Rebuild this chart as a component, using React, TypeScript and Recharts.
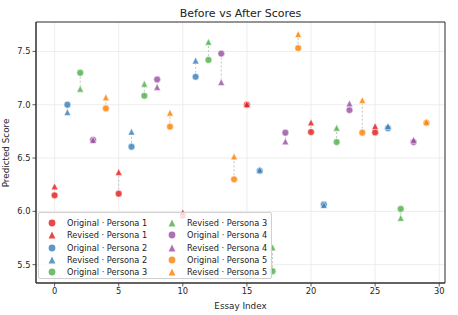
import React from 'react';
import {
  ScatterChart, Scatter, XAxis, YAxis, CartesianGrid, ReferenceArea,
} from 'recharts';

const essayIdx = [0, 1, 2, 3, 4, 5, 6, 7, 8, 9, 10, 11, 12, 13, 14, 15, 16, 17, 18, 19, 20, 21, 22, 23, 24, 25, 26, 27, 28, 29];
const personaIds = [1, 2, 3, 4, 5, 1, 2, 3, 4, 5, 1, 2, 3, 4, 5, 1, 2, 3, 4, 5, 1, 2, 3, 4, 5, 1, 2, 3, 4, 5];
const originalScores = [6.15, 7.0, 7.3, 6.67, 6.965, 6.166, 6.606, 7.084, 7.237, 6.794, 5.96, 7.262, 7.42, 7.48, 6.3, 7.0, 6.38, 5.438, 6.738, 7.531, 6.744, 6.065, 6.65, 6.95, 6.738, 6.74, 6.78, 6.023, 6.65, 6.83];
const revisedScores = [6.234, 6.93, 7.15, 6.67, 7.07, 6.369, 6.747, 7.197, 7.166, 6.925, 5.99, 7.415, 7.59, 7.213, 6.515, 7.005, 6.39, 5.663, 6.656, 7.663, 6.834, 6.06, 6.784, 7.012, 7.044, 6.8, 6.8, 5.938, 6.67, 6.84];

const personaNames = ['Persona 1', 'Persona 2', 'Persona 3', 'Persona 4', 'Persona 5'];
const personaColors = ['#e41a1c', '#377eb8', '#4daf4a', '#984ea3', '#ff7f00'];

const xTicks = [0, 5, 10, 15, 20, 25, 30];
const yTicks = [5.5, 6.0, 6.5, 7.0, 7.5];
const xDomain = [-1.45, 30.45];
const yDomain = [5.328, 7.776];

const FONT = 'DejaVu Sans, sans-serif';
const MR = 3.4;

const makeCircle = (color: string) => (props: any) => {
  const { cx, cy } = props;
  if (cx == null || cy == null) return <g />;
  return <circle cx={cx} cy={cy} r={MR} fill={color} fillOpacity={0.8} stroke="#ffffff" strokeWidth={0.5} />;
};
const makeTriangle = (color: string) => (props: any) => {
  const { cx, cy } = props;
  if (cx == null || cy == null) return <g />;
  const d = `M${cx},${cy - MR} L${cx - MR},${cy + MR} L${cx + MR},${cy + MR} Z`;
  return <path d={d} fill={color} fillOpacity={0.8} stroke="#ffffff" strokeWidth={0.5} />;
};
const emptyShape = () => <g />;

type Series = { name: string; color: string; kind: 'o' | '^'; data: { x: number; y: number }[] };
const series: Series[] = [];
personaNames.forEach((pn, p) => {
  const idxs = essayIdx.filter((_, i) => personaIds[i] === p + 1);
  series.push({ name: `Original · ${pn}`, color: personaColors[p], kind: 'o', data: idxs.map((x) => ({ x, y: originalScores[x] })) });
  series.push({ name: `Revised · ${pn}`, color: personaColors[p], kind: '^', data: idxs.map((x) => ({ x, y: revisedScores[x] })) });
});

const connectors = essayIdx.map((x, i) => [
  { x, y: originalScores[i] },
  { x, y: revisedScores[i] },
]);

const LegendMarker = ({ color, kind }: { color: string; kind: 'o' | '^' }) => (
  <svg width={10} height={10} style={{ position: 'absolute', left: -5, top: -5 }}>
    {kind === 'o' ? (
      <circle cx={5} cy={5} r={3.4} fill={color} fillOpacity={0.8} />
    ) : (
      <path d="M5,1.6 L1.6,8.4 L8.4,8.4 Z" fill={color} fillOpacity={0.8} />
    )}
  </svg>
);

const LegendBox = () => (
  <div
    style={{
      position: 'absolute', left: 38, top: 212, width: 232, height: 65,
      background: 'rgba(255,255,255,0.8)', border: '1px solid #d0d0d0', borderRadius: 2,
      fontFamily: FONT, fontSize: 8.2, color: '#222',
    }}
  >
    {series.map((s, i) => {
      const col = i < 5 ? 0 : 1;
      const row = i % 5;
      const mx = col === 0 ? 13 : 133;
      const cy = 10 + row * 12.35;
      return (
        <div key={s.name}>
          <div style={{ position: 'absolute', left: mx, top: cy }}>
            <LegendMarker color={s.color} kind={s.kind} />
          </div>
          <div style={{ position: 'absolute', left: mx + 15, top: cy - 6, lineHeight: '12px', whiteSpace: 'nowrap' }}>
            {s.name}
          </div>
        </div>
      );
    })}
  </div>
);

export default function App() {
  return (
    <div style={{ position: 'absolute', left: 0, top: 0, width: 458, height: 315, background: '#fff' }}>
      <ScatterChart width={458} height={315} margin={{ top: 22, right: 13, bottom: 0, left: 0 }}>
        <CartesianGrid stroke="#e8e8e8" strokeWidth={0.8} />
        <XAxis
          type="number" dataKey="x" domain={xDomain} ticks={xTicks} allowDataOverflow
          height={32} tickSize={3.5} interval={0}
          axisLine={{ stroke: '#333', strokeWidth: 1 }} tickLine={{ stroke: '#333', strokeWidth: 0.8 }}
          tick={{ fontFamily: FONT, fontSize: 8.3, fill: '#262626' }}
          label={() => (
            <text x={240.5} y={309} textAnchor="middle" fontFamily={FONT} fontSize={8.8} fill="#262626">Essay Index</text>
          )}
        />
        <YAxis
          type="number" dataKey="y" domain={yDomain} ticks={yTicks} allowDataOverflow
          width={36} tickSize={3.5} interval={0}
          tickFormatter={(v: number) => v.toFixed(1)}
          axisLine={{ stroke: '#333', strokeWidth: 1 }} tickLine={{ stroke: '#333', strokeWidth: 0.8 }}
          tick={{ fontFamily: FONT, fontSize: 8.3, fill: '#262626' }}
          label={() => (
            <text x={9} y={153} transform="rotate(-90 9 153)" textAnchor="middle" fontFamily={FONT} fontSize={8.8} fill="#262626">Predicted Score</text>
          )}
        />
        <ReferenceArea x1={xDomain[0]} x2={xDomain[1]} y1={yDomain[0]} y2={yDomain[1]} fill="none" stroke="#333" strokeWidth={1} />
        {connectors.map((c, i) => (
          <Scatter
            key={`c${i}`} data={c} shape={emptyShape} isAnimationActive={false} legendType="none"
            line={{ stroke: '#c4c4c4', strokeWidth: 1, strokeDasharray: '2 2' }} lineType="joint"
          />
        ))}
        {series.map((s) => (
          <Scatter
            key={s.name} name={s.name} data={s.data} isAnimationActive={false}
            shape={s.kind === 'o' ? makeCircle(s.color) : makeTriangle(s.color)}
          />
        ))}
      </ScatterChart>
      <div
        style={{
          position: 'absolute', left: 36, width: 409, top: 7, textAlign: 'center',
          fontFamily: FONT, fontSize: 11, lineHeight: '13px', color: '#222',
        }}
      >
        Before vs After Scores
      </div>
      <LegendBox />
    </div>
  );
}
